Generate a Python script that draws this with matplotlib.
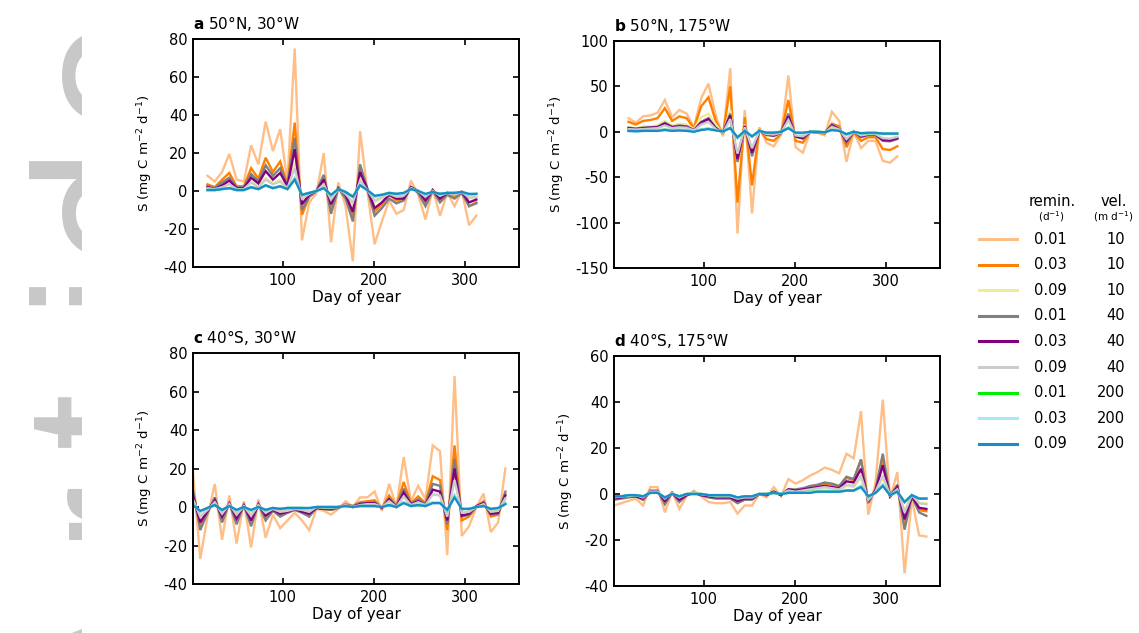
import matplotlib
matplotlib.use("Agg")
import matplotlib.pyplot as plt
from matplotlib.lines import Line2D

W, H = 1139, 633

plt.rcParams["font.family"] = ["DejaVu Sans"]
plt.rcParams["axes.unicode_minus"] = False

# giorni (composite 8 giorni)
days_ab = [17, 25, 33, 41, 49, 57, 65, 73, 81, 89, 97, 105, 113, 121, 129, 137, 145, 153, 161,
           169, 177, 185, 193, 201, 209, 217, 225, 233, 241, 249, 257, 265, 273, 281, 289, 297,
           305, 313]
days_cd = [1, 9, 17, 25, 33, 41, 49, 57, 65, 73, 81, 89, 97, 105, 113, 121, 129, 137, 145, 153,
           161, 169, 177, 185, 193, 201, 209, 217, 225, 233, 241, 249, 257, 265, 273, 281, 289,
           297, 305, 313, 321, 329, 337, 345]

# a: 50N 30W
a_r01_v10 = [8, 5, 10, 19.5, 6, 5, 24, 14, 36.5, 21, 32.5, 5, 75, -26, -6, -1, 20, -27, 4.5, -8,
             -37, 31.5, 0, -28, -16, -5, -12, -10, 5.5, -2, -15, 1, -13, -1, -8, 0, -18, -13]
a_r03_v10 = [3.5, 2, 6, 9.5, 2.5, 2.5, 12, 6.5, 17.5, 10, 15.5, 3.5, 36, -12.5, -3, 0, 8, -10, 1.5, -3,
             -14, 12, 1, -11, -7, -2, -5, -4, 2, 0, -6, 0.5, -5, -1, -3, -0.5, -8, -6]
a_r09_v10 = [1.5, 1, 2.5, 4, 1, 1, 5, 2.5, 7, 4, 6, 1.5, 15, -5, -1.5, 0, 4, -5, 1, -1.5,
             -7, 6.5, 0.5, -6, -4, -1.5, -3, -2.5, 1.5, 0, -3.5, 0, -3, -1, -2, -0.5, -4, -3.5]
a_r01_v40 = [2.5, 1.5, 4.5, 7, 2, 2, 9, 5, 13.5, 8, 12, 3, 28, -10, -3, 0, 8.5, -12, 1.5, -4,
             -16, 14, 1, -13, -9, -4, -6.5, -5, 2, -1, -8, 0, -6, -2, -4, -1, -8, -6.5]
a_r03_v40 = [2, 1, 3, 5.5, 1.5, 1.5, 7, 4, 10.5, 6, 9.5, 2.5, 22, -7, -2, 0, 6, -7, 1.5, -2,
             -11, 10, 1, -9, -6, -2, -4, -4, 2, 0, -5, 0.5, -4, -1, -2, -0.5, -6, -4.5]
a_r09_v40 = [1.5, 1, 2, 3.5, 1, 1, 4.5, 2, 6, 3.5, 5, 1.5, 12, -4, -1.5, 0, 3.5, -4.5, 1, -1.5,
             -6, 5.5, 0.5, -5, -3.5, -1.5, -3, -2.5, 1.5, 0, -3, 0, -2.5, -1, -2, -0.5, -3.5, -3]
a_r01_v200 = [0.5, 0.5, 1, 1.5, 0.5, 0.5, 2, 1, 3, 1.5, 2.5, 1, 6.5, -2, -1, 0, 1.5, -2.5, 1, -0.5,
              -3, 3, 0.5, -3, -2, -1, -1.5, -1.5, 1, 0, -2, -0.5, -1.5, -1, -1, -0.5, -2, -1.5]
a_r03_v200 = [0.5, 0.5, 1, 1.5, 0.5, 0.5, 2, 1, 3, 1.5, 2.5, 1, 6.5, -2, -1, 0, 1.5, -2.5, 1, -0.5,
              -3, 3, 0.5, -3, -2, -1, -1.5, -1.5, 1, 0, -2, -0.5, -1.5, -1, -1, -0.5, -2, -1.5]
a_r09_v200 = [0.5, 0.5, 1, 1.5, 0.5, 0.5, 2, 1, 3, 1.5, 2.5, 1, 6, -2, -1, 0, 1.5, -2, 1, -0.5,
              -3, 3, 0.5, -2.5, -2, -1, -1.5, -1, 1, 0, -1.5, -0.5, -1.5, -1, -1, -0.5, -1.5, -1.5]

# b: 50N 175W
b_r01_v10 = [15, 10, 17, 18, 21, 35, 16, 24, 20, 5, 37, 53, 18, -5, 70, -112, 24, -90, 5, -12,
             -16, -3, 62, -17, -23, 0, -1, -4, 22, 12, -33, 0, -18, -10, -10, -32, -34, -27]
b_r03_v10 = [11, 8, 12, 13, 15, 26, 12, 17, 15, 4, 28, 38, 12, -3, 50, -78, 16, -59, 3, -8,
             -10, -2, 35, -10, -12, 0, -1, -2, 9, 6, -17, 0, -10, -6, -6, -19, -20, -16]
b_r09_v10 = [5, 4, 6, 6, 7, 12, 7, 9, 8, 3, 16, 20, 8, -2, 24, -34, 8, -24, 2, -4,
             -5, -1, 18, -6, -6, 0, 0, -1, 7, 4, -10, 0, -5, -3, -3, -8, -9, -7]
b_r01_v40 = [4.5, 3.5, 4.5, 5, 5.5, 10, 5.5, 7, 6, 2, 11, 15, 4.5, -1, 20, -33, 7, -27, 1, -3.5,
             -4.5, -1, 20, -5.5, -7.5, 0, -0.5, -1.5, 8, 3.5, -12, 0, -6, -3.5, -3.5, -10, -10.5, -8]
b_r03_v40 = [4, 3, 4, 4.5, 5, 9, 5, 6, 5.5, 1.5, 10, 14, 4, -1, 18, -30, 6, -23, 1, -3,
             -4, -1, 17, -5, -7, 0, -0.5, -1, 7, 3, -10, 0, -5, -3, -3, -9, -9.5, -7]
b_r09_v40 = [3, 2.5, 3, 3.5, 4, 7, 4, 5, 4.5, 1.5, 8, 11, 3, -1, 14, -24, 5, -18, 1, -2.5,
             -3, -1, 13, -4, -5, 0, -0.5, -1, 5.5, 2.5, -8, 0, -4, -2.5, -2.5, -7, -7.5, -5.5]
b_r01_v200 = [1, 1, 1, 1.5, 1.5, 2.5, 1.5, 2, 1.5, 0.5, 2.5, 3.5, 2, 0.5, 4.5, -7, 1.5, -5.5, 1, -1,
              -1, 0, 4.5, -1, -1.5, 0, 0, -0.5, 2, 1.5, -3, 0, -2, -1.5, -1.5, -2, -2, -2]
b_r03_v200 = [1, 1, 1, 1.5, 1.5, 2.5, 1.5, 2, 1.5, 0.5, 2.5, 3.5, 2, 0.5, 4.5, -7, 1.5, -5.5, 1, -1,
              -1, 0, 4.5, -1, -1.5, 0, 0, -0.5, 2, 1.5, -3, 0, -2, -1.5, -1.5, -2, -2, -2]
b_r09_v200 = [1, 0.5, 1, 1, 1, 2, 1, 1.5, 1, 0, 2, 3, 1.5, 0.5, 4, -6, 1, -5, 1, -1,
              -1, 0, 4, -1, -1, 0, 0, -0.5, 2, 1, -2.5, 0, -1.5, -1, -1, -2, -2, -2]

# c: 40S 30W
c_r01_v10 = [18, -27, -5, 12, -17, 6, -19, 3, -21, 4, -16, -4, -11, -7, -3, -7, -12, -1, -2, -4,
             -1, 3, 0, 5, 5, 8, -2, 12, 0, 26, 3, 11, 4, 32, 29, -25, 68, -15, -10, 0, 7, -13, -8, 20]
c_r03_v10 = [6, -10, -3, 4, -6, 2, -7, 1, -8, 1.5, -5, -2, -4, -3, -1.5, -2.5, -4, -0.5, -1, -1.5,
             -0.5, 1.5, 0.5, 2.5, 3, 3.5, -0.5, 6, 0.5, 13, 2, 5.5, 2, 16, 14, -12, 32, -7, -5, 0,
             3, -5, -4, 7]
c_r09_v10 = [3, -5, -1.5, 2, -3, 1, -3.5, 0.5, -4, 1, -2.5, -1, -2, -1.5, -1, -1.5, -2, 0, -0.5, -0.5,
             0, 1, 0, 1.5, 1.5, 2, 0, 3, 0, 6, 1, 3, 1, 7, 6, -6, 15, -3, -2.5, 0, 1.5, -2.5, -2, 4]
c_r01_v40 = [9, -12, -3, 5, -8, 2, -9, 1, -10, 1.5, -7, -2, -5, -3, -1.5, -3, -5, -0.5, -1, -1.5,
             -0.5, 1, 0.5, 2, 2, 2.5, -0.5, 4.5, 0.5, 9.5, 1.5, 4, 1.5, 12, 11, -9, 25, -5, -4, 0,
             2.5, -4, -3.5, 8]
c_r03_v40 = [6, -8, -2, 3.5, -5, 2, -6, 1, -7, 1.5, -4.5, -1.5, -3.5, -2.5, -1, -2.5, -3.5, -0.5, -1, -1,
             0, 1, 0, 1.5, 2, 2, -0.5, 4, 0, 7.5, 1.5, 3, 1, 9, 8, -7, 20, -4.5, -3.5, 0.5,
             2, -3.5, -3, 6]
c_r09_v40 = [4, -5, -1.5, 2.5, -3.5, 1.5, -4, 0.5, -4.5, 1, -3, -1, -2.5, -2, -1, -1.5, -2.5, 0, -0.5, -0.5,
             0, 1, 0, 1, 1.5, 1.5, 0, 3, 0, 5.5, 1, 2.5, 1, 6.5, 6, -5, 14, -3, -2.5, 0,
             1.5, -2.5, -2, 4.5]
c_r01_v200 = [1.5, -2.5, -0.5, 1, -1.5, 0.5, -2, 0, -2, 0, -1.5, -0.5, -1, -0.5, -0.5, -0.5, -1, 0, 0, 0,
              0, 0.5, 0, 0.5, 0.5, 0.5, 0, 1, 0, 2.5, 0.5, 1, 0.5, 2.5, 2.5, -2, 6, -1, -1, 0,
              0.5, -1, -1, 2]
c_r03_v200 = [1.5, -2.5, -0.5, 1, -1.5, 0.5, -2, 0, -2, 0, -1.5, -0.5, -1, -0.5, -0.5, -0.5, -1, 0, 0, 0,
              0, 0.5, 0, 0.5, 0.5, 0.5, 0, 1, 0, 2.5, 0.5, 1, 0.5, 2.5, 2.5, -2, 6, -1, -1, 0,
              0.5, -1, -1, 2]
c_r09_v200 = [1, -2, -0.5, 1, -1.5, 0.5, -1.5, 0, -1.5, 0, -1.5, -0.5, -1, -0.5, -0.5, -0.5, -0.5, 0, 0, 0,
              0, 0.5, 0, 0.5, 0.5, 0.5, 0, 1, 0, 2, 0.5, 1, 0.5, 2, 2, -1.5, 5, -1, -1, 0,
              0.5, -1, -0.5, 1.5]

# d: 40S 175W
d_r01_v10 = [-5, -4, -3, -2, -5, 3, 3, -8, 1, -6.5, -1, 1.5, -1, -3.5, -4, -4, -3.5, -8.5, -5, -5,
             0, -1.5, 3, -1, 6.5, 4.5, 6, 8, 9.5, 11.5, 10.5, 9, 17.5, 15.5, 36, -9, 5, 41, -2, 9.5,
             -34.5, -2, -18, -18.5]
d_r03_v10 = [-2, -1.5, -1, -1, -2.5, 1, 1, -3.5, 0.5, -3, -0.5, 0.5, -0.5, -1, -1.5, -1.5, -1.5, -3.5, -2, -2,
             0, -0.5, 1, -0.5, 2, 1.5, 2, 3, 3.5, 4.5, 4, 3, 7, 6, 15, -3.5, 2, 15, -1, 3.5,
             -13, -1, -7, -7.5]
d_r09_v10 = [-1, -1, -0.5, -0.5, -1.5, 0.5, 0.5, -2, 0, -1.5, 0, 0.5, 0, -0.5, -1, -1, -1, -2, -1.5, -1.5,
             0, 0, 0.5, 0, 1, 1, 1, 1.5, 2, 2, 2, 1.5, 3.5, 3, 7, -2, 1, 7, -0.5, 2,
             -7, -1, -4, -4]
d_r01_v40 = [-2.5, -2, -1.5, -1, -2.5, 1.5, 1.5, -4.5, 0.5, -3.5, -0.5, 0.5, -0.5, -1.5, -2, -2, -2, -4, -2.5, -2.5,
             0, -0.5, 1, -0.5, 2, 2, 2.5, 3.5, 4, 5, 4.5, 3.5, 7.5, 6.5, 15, -4, 2, 17.5, -1, 4,
             -15.5, -1, -8, -9.5]
d_r03_v40 = [-2, -1.5, -1, -1, -2, 1, 1, -3, 0.5, -2.5, -0.5, 0.5, -0.5, -1, -1.5, -1.5, -1.5, -3, -2, -2,
             0, -0.5, 1, -0.5, 2, 1.5, 2, 2.5, 3, 3.5, 3, 2.5, 5.5, 5, 11, -3, 1.5, 12.5, -1, 3,
             -11, -1, -6, -6.5]
d_r09_v40 = [-1.5, -1, -1, -0.5, -1.5, 1, 1, -2, 0.5, -1.5, 0, 0.5, 0, -0.5, -1, -1, -1, -2, -1.5, -1.5,
             0, 0, 0.5, 0, 1.5, 1, 1.5, 2, 2.5, 3, 2.5, 2, 4, 3.5, 8, -2.5, 1, 8, -0.5, 2,
             -8, -0.5, -4, -4.5]
d_r01_v200 = [-1, -1, -0.5, -0.5, -1, 0.5, 0.5, -1.5, 0, -1, 0, 0, 0, -0.5, -0.5, -0.5, -0.5, -1.5, -1, -1,
              0, 0, 0.5, 0, 0.5, 0.5, 0.5, 1, 1, 1, 1, 1, 1.5, 1.5, 3.5, -1, 0.5, 4, -0.5, 1,
              -3.5, -0.5, -2, -2]
d_r03_v200 = [-1, -1, -0.5, -0.5, -1, 0.5, 0.5, -1.5, 0, -1, 0, 0, 0, -0.5, -0.5, -0.5, -0.5, -1.5, -1, -1,
              0, 0, 0.5, 0, 0.5, 0.5, 0.5, 1, 1, 1, 1, 1, 1.5, 1.5, 3.5, -1, 0.5, 4, -0.5, 1,
              -3.5, -0.5, -2, -2]
d_r09_v200 = [-1, -1, -0.5, -0.5, -1, 0.5, 0.5, -1.5, 0, -1, 0, 0, 0, -0.5, -0.5, -0.5, -0.5, -1.5, -1, -1,
              0, 0, 0.5, 0, 0.5, 0.5, 0.5, 0.5, 1, 1, 1, 1, 1.5, 1.5, 3, -1, 0.5, 3.5, -0.5, 1,
              -3.5, -0.5, -2, -2]

remin = ["0.01", "0.03", "0.09", "0.01", "0.03", "0.09", "0.01", "0.03", "0.09"]
vel = ["10", "10", "10", "40", "40", "40", "200", "200", "200"]
colors = ["#FFBE86", "#FF8000", "#EDED98", "#808080", "#800080",
          "#CCCCCC", "#00EE00", "#A8E8F8", "#1A8CC8"]

panel_letters = ["a", "b", "c", "d"]
panel_titles = ["50°N, 30°W", "50°N, 175°W", "40°S, 30°W", "40°S, 175°W"]

panels = [
    (days_ab, [a_r01_v10, a_r03_v10, a_r09_v10, a_r01_v40, a_r03_v40, a_r09_v40,
               a_r01_v200, a_r03_v200, a_r09_v200], (-40, 80), [-40, -20, 0, 20, 40, 60, 80]),
    (days_ab, [b_r01_v10, b_r03_v10, b_r09_v10, b_r01_v40, b_r03_v40, b_r09_v40,
               b_r01_v200, b_r03_v200, b_r09_v200], (-150, 100), [-150, -100, -50, 0, 50, 100]),
    (days_cd, [c_r01_v10, c_r03_v10, c_r09_v10, c_r01_v40, c_r03_v40, c_r09_v40,
               c_r01_v200, c_r03_v200, c_r09_v200], (-40, 80), [-40, -20, 0, 20, 40, 60, 80]),
    (days_cd, [d_r01_v10, d_r03_v10, d_r09_v10, d_r01_v40, d_r03_v40, d_r09_v40,
               d_r01_v200, d_r03_v200, d_r09_v200], (-40, 60), [-40, -20, 0, 20, 40, 60]),
]

# posizioni assi in pixel (left, top, right, bottom)
boxes = [(193, 39, 519, 267), (614, 41, 940, 268), (193, 353, 519, 584), (614, 356, 940, 586)]

fig = plt.figure(figsize=(W / 100, H / 100), dpi=100)

# watermark grigio a sinistra (solo la parte alta delle lettere, tagliata a x=82)
wm_letters = ["A", "r", "t", "i", "c", "l", "e"]
wm_centers = [-30, 128, 215, 351, 425, 477, 566]
wax = fig.add_axes([0, 0, 82 / W, 1])
wax.set_xlim(0, 82)
wax.set_ylim(0, H)
wax.axis("off")
for ch, yc in zip(wm_letters, wm_centers):
    wax.text(165, yc, ch, rotation=90, rotation_mode="anchor", ha="center", va="baseline",
             fontsize=148, family="Liberation Sans", color="#C8C8C8", clip_on=True)

for i, (days, series, ylim, yticks) in enumerate(panels):
    l, t, r, b = boxes[i]
    ax = fig.add_axes([l / W, 1 - b / H, (r - l) / W, (b - t) / H])
    for vals, col in zip(series, colors):
        ax.plot(days, vals, color=col, lw=1.7, solid_joinstyle="miter")
    ax.set_xlim(1, 360)
    ax.set_ylim(*ylim)
    ax.set_xticks([100, 200, 300])
    ax.set_yticks(yticks)
    ax.tick_params(direction="in", top=True, right=True, length=4, width=1.2,
                   labelsize=10.5, pad=4)
    for sp in ax.spines.values():
        sp.set_linewidth(1.4)
    ax.set_xlabel("Day of year", fontsize=11, labelpad=2)
    ax.set_ylabel(r"S (mg C m$^{\mathregular{-2}}$ d$^{\mathregular{-1}}$)", fontsize=9.6, labelpad=6)
    ax.set_title(r"$\bf{" + panel_letters[i] + "}$ " + panel_titles[i], loc="left",
                 fontsize=11, pad=7)


def fx(x):
    return x / W


def fy(y):
    return 1 - y / H


# legenda
fig.text(fx(1052), fy(201), "remin.", ha="center", va="center", fontsize=10.5)
fig.text(fx(1051), fy(217), r"(d$^{\mathregular{-1}}$)", ha="center", va="center", fontsize=7.5)
fig.text(fx(1114), fy(201), "vel.", ha="center", va="center", fontsize=10.5)
fig.text(fx(1113), fy(217), r"(m d$^{\mathregular{-1}}$)", ha="center", va="center", fontsize=7.5)
for k in range(len(colors)):
    yy = 239 + k * 25.6
    fig.add_artist(Line2D([fx(979), fx(1017)], [fy(yy), fy(yy)], color=colors[k], lw=2.2,
                          transform=fig.transFigure))
    fig.text(fx(1034), fy(yy), remin[k], ha="left", va="center", fontsize=10.5)
    fig.text(fx(1125), fy(yy), vel[k], ha="right", va="center", fontsize=10.5)

fig.savefig("out.png", dpi=100)
